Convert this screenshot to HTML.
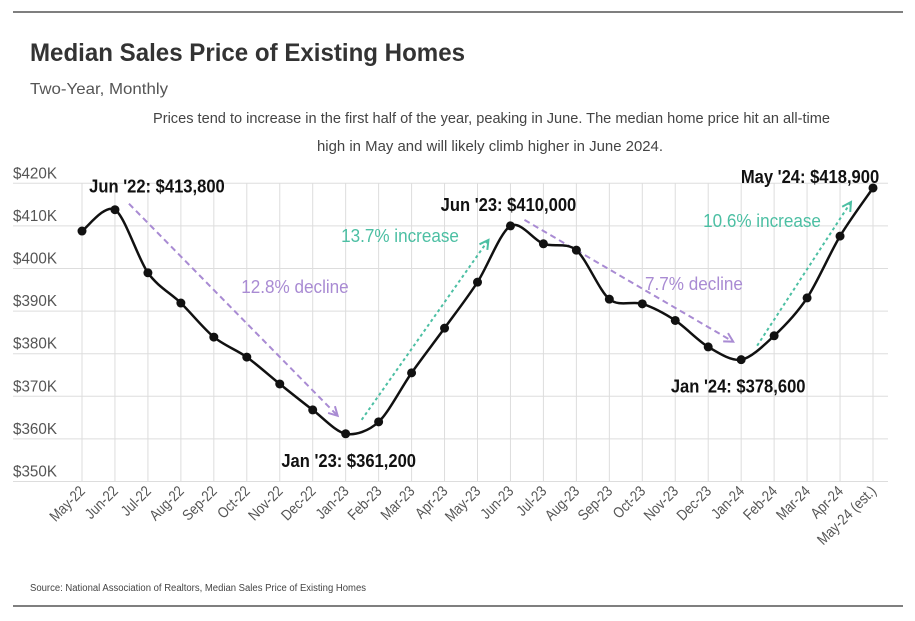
<!DOCTYPE html>
<html><head><meta charset="utf-8">
<style>
body{margin:0;background:#fff;}
svg text{font-family:"Liberation Sans Narrow","Liberation Sans",sans-serif;}
</style></head>
<body>
<svg id="svg" width="915" height="616" viewBox="0 0 915 616">
<line x1="13" y1="12" x2="903" y2="12" stroke="#333" stroke-width="1.2"/>
<line x1="13" y1="606" x2="903" y2="606" stroke="#333" stroke-width="1.2"/>
<text x="30" y="61" font-size="25" font-weight="bold" fill="#333" textLength="435" lengthAdjust="spacingAndGlyphs">Median Sales Price of Existing Homes</text>
<text x="30" y="94" font-size="16" fill="#555" textLength="138" lengthAdjust="spacingAndGlyphs">Two-Year, Monthly</text>
<text x="153" y="123" font-size="15" fill="#444" textLength="677" lengthAdjust="spacingAndGlyphs">Prices tend to increase in the first half of the year, peaking in June. The median home price hit an all-time</text>
<text x="317" y="151" font-size="15" fill="#444" textLength="346" lengthAdjust="spacingAndGlyphs">high in May and will likely climb higher in June 2024.</text>
<text x="30" y="591" font-size="10" fill="#444" textLength="336" lengthAdjust="spacingAndGlyphs">Source:  National Association of Realtors, Median Sales Price of Existing Homes</text>
<g id="grid"></g>
<g id="ann"></g>
<g id="series"></g>
</svg>
<script>
const categories=["May-22","Jun-22","Jul-22","Aug-22","Sep-22","Oct-22","Nov-22","Dec-22","Jan-23","Feb-23","Mar-23","Apr-23","May-23","Jun-23","Jul-23","Aug-23","Sep-23","Oct-23","Nov-23","Dec-23","Jan-24","Feb-24","Mar-24","Apr-24","May-24 (est.)"];
const prices=[408.8,413.8,399.0,391.9,383.9,379.2,372.9,366.8,361.2,364.0,375.5,386.0,396.8,410.0,405.8,404.3,392.8,391.7,387.8,381.6,378.6,384.2,393.1,407.6,418.9];
const yTicks=[350,360,370,380,390,400,410,420];
const yTickLabels=["$350K","$360K","$370K","$380K","$390K","$400K","$410K","$420K"];
const calloutIdx=[1,8,13,20,24];
const calloutText=["Jun '22: $413,800","Jan '23: $361,200","Jun '23: $410,000","Jan '24: $378,600","May '24: $418,900"];
const calloutOffset=[[42,-17],[3,33],[-2,-15],[-3,33],[-63,-5]];
const trendFrom=[1,8,13,20];
const trendTo=[8,13,20,24];
const trendText=["12.8% decline","13.7% increase","7.7% decline","10.6% increase"];
const trendLabelPos=[[295,293],[400,242],[694,290],[762,227]];

const NS="http://www.w3.org/2000/svg";
const x=i=>82+i*(873-82)/(categories.length-1);
const y=v=>183.3+(420-v)*4.26;
function mk(tag,attrs,parent,txt){const e=document.createElementNS(NS,tag);for(const k in attrs)e.setAttribute(k,attrs[k]);if(txt!==undefined)e.textContent=txt;parent.appendChild(e);return e;}
function squeeze(t,f){const w=t.getComputedTextLength();t.setAttribute('textLength',w*f);t.setAttribute('lengthAdjust','spacingAndGlyphs');}
const grid=document.getElementById('grid'),ann=document.getElementById('ann'),ser=document.getElementById('series');

yTicks.forEach((v,k)=>{
  const l=mk('line',{x1:13,x2:888,y1:y(v),y2:y(v),stroke:'#ddd','stroke-width':1},grid);
  
  
  const t=mk('text',{x:13,y:y(v)-5,'font-size':16,fill:'#555'},grid,yTickLabels[k]);
  
  
  squeeze(t,0.95);
});
categories.forEach((c,i)=>{
  const l=mk('line',{x1:x(i),x2:x(i),y1:183,y2:481,stroke:'#ddd','stroke-width':1},grid);
  
  
  const t=mk('text',{x:x(i)+4,y:492,'font-size':15,fill:'#555','text-anchor':'end',transform:`rotate(-45 ${x(i)+4} 492)`},grid,c);
  
  
  squeeze(t,0.86);
});

const colDecl="#a98bd3",colInc="#4cbfa3";
trendFrom.forEach((a,k)=>{
  const b=trendTo[k];
  const up=prices[b]>prices[a];
  const c=up?colInc:colDecl;
  let x1,y1,x2,y2;
  if(up){x1=x(a)+16;y1=y(prices[a])-14;x2=x(b)-22;y2=y(prices[b])+14;}
  else{x1=x(a)+14;y1=y(prices[a])-6;x2=x(b)-8;y2=y(prices[b])-18;}
  const l=mk('line',{x1,y1,x2,y2,stroke:c,'stroke-width':2,'stroke-dasharray':up?'3,3':'6,4'},ann);
  
  
  const ang=Math.atan2(y2-y1,x2-x1),L=10;
  const p=mk('polyline',{points:`${x2-L*Math.cos(ang-0.5)},${y2-L*Math.sin(ang-0.5)} ${x2},${y2} ${x2-L*Math.cos(ang+0.5)},${y2-L*Math.sin(ang+0.5)}`,fill:'none',stroke:c,'stroke-width':2},ann);
  
  
  const t=mk('text',{x:trendLabelPos[k][0],y:trendLabelPos[k][1],'font-size':18,fill:c,'text-anchor':'middle'},ann,trendText[k]);
  
  
  squeeze(t,0.95);
});

let d='';
const pts=prices.map((v,i)=>[x(i),y(v)]);
for(let i=0;i<pts.length;i++){
  if(i===0){d+=`M${pts[0][0]},${pts[0][1]}`;continue;}
  const p0=pts[Math.max(0,i-2)],p1=pts[i-1],p2=pts[i],p3=pts[Math.min(pts.length-1,i+1)];
  const t=0.15;
  d+=` C${p1[0]+(p2[0]-p0[0])*t},${p1[1]+(p2[1]-p0[1])*t} ${p2[0]-(p3[0]-p1[0])*t},${p2[1]-(p3[1]-p1[1])*t} ${p2[0]},${p2[1]}`;
}
const path=mk('path',{d,fill:'none',stroke:'#111','stroke-width':2.5},ser);


prices.forEach((v,i)=>{
  const c=mk('circle',{cx:x(i),cy:y(v),r:4.5,fill:'#111'},ser);
  
  
});
calloutIdx.forEach((i,k)=>{
  const t=mk('text',{x:x(i)+calloutOffset[k][0],y:y(prices[i])+calloutOffset[k][1],'font-size':18,'font-weight':'bold',fill:'#111','text-anchor':'middle'},ser,calloutText[k]);
  
  
  squeeze(t,0.92);
});
</script>
</body></html>
